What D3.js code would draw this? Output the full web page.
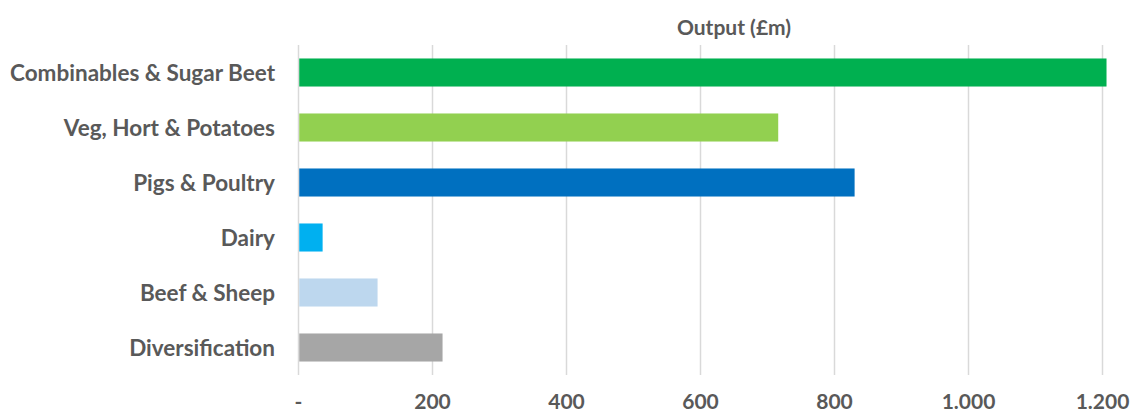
<!DOCTYPE html>
<html>
<head>
<meta charset="utf-8">
<script src="https://cdn.jsdelivr.net/npm/d3@7"></script>
<style>
  body { margin: 0; background: #fff; }
  text { font-family: Lato, "Open Sans", sans-serif; font-weight: bold; fill: #595959; }
</style>
</head>
<body>
<script>
// data
var categories = ["Combinables & Sugar Beet", "Veg, Hort & Potatoes", "Pigs & Poultry", "Dairy", "Beef & Sheep", "Diversification"];
var values = [1206, 716, 830, 36, 118, 215];
var colors = ["#00B050", "#92D050", "#0070C0", "#00B0F0", "#BDD7EE", "#A6A6A6"];
var ticks = [0, 200, 400, 600, 800, 1000, 1200];
var tickLabels = ["-", "200", "400", "600", "800", "1.000", "1.200"];
var title = "Output (£m)";

//positioning/sizing
var svg_dx = 1131, svg_dy = 414;
var margin = {top: 45, left: 298.5, right: 28.5, bottom: 39};

var x = d3.scaleLinear().domain([0, 1200]).range([margin.left, svg_dx - margin.right]);
var y = d3.scaleBand().domain(categories).range([margin.top, svg_dy - margin.bottom]).paddingInner(0.49).paddingOuter(0.245);

var svg = d3.select("body").append("svg")
        .attr("width", svg_dx)
        .attr("height", svg_dy);

// gridlines
svg.append("g")
   .selectAll("line")
   .data(ticks)
   .enter()
   .append("line")
   .attr("x1", d => x(d))
   .attr("x2", d => x(d))
   .attr("y1", margin.top)
   .attr("y2", svg_dy - margin.bottom)
   .attr("stroke", "#D9D9D9")
   .attr("stroke-width", 1.5);

// bars
svg.append("g")
   .selectAll("rect")
   .data(values)
   .enter()
   .append("rect")
   .attr("x", x(0) + 0.75)
   .attr("y", (d, i) => y(categories[i]))
   .attr("width", d => x(d) - x(0) - 0.75)
   .attr("height", y.bandwidth())
   .attr("fill", (d, i) => colors[i]);

// category labels
svg.append("g")
   .selectAll("text")
   .data(categories)
   .enter()
   .append("text")
   .attr("x", 275)
   .attr("y", d => y(d) + y.bandwidth() / 2)
   .attr("dy", "0.36em")
   .attr("text-anchor", "end")
   .style("font-size", "22.5px")
   .text(d => d);

// x tick labels
svg.append("g")
   .selectAll("text")
   .data(ticks)
   .enter()
   .append("text")
   .attr("x", d => x(d))
   .attr("y", 409)
   .attr("text-anchor", "middle")
   .style("font-size", "21px")
   .text((d, i) => tickLabels[i]);

// axis title
svg.append("text")
   .attr("x", 734)
   .attr("y", 35)
   .attr("text-anchor", "middle")
   .style("font-size", "21px")
   .text(title);
</script>
</body>
</html>
